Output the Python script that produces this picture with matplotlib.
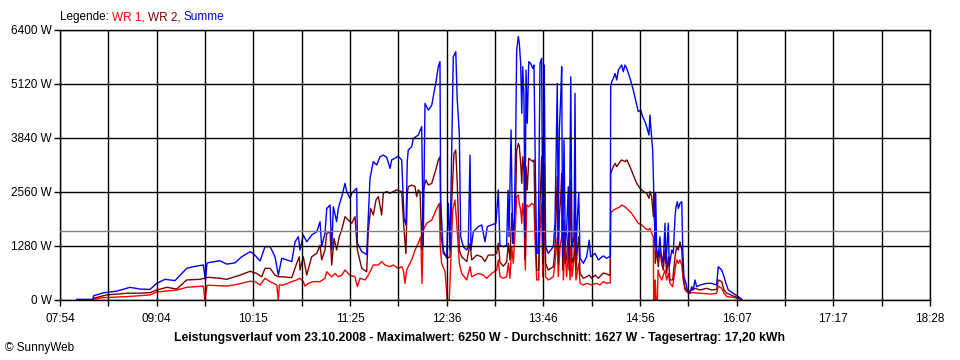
import matplotlib
matplotlib.use('Agg')
import matplotlib.pyplot as plt
from matplotlib.offsetbox import TextArea, HPacker, AnnotationBbox

plt.rcParams['font.family'] = ['Liberation Sans', 'DejaVu Sans']

# time in minutes of the day, power in W
summe_t = [486.2, 498.0, 498.5, 505.6, 515.3, 525.0, 532.3, 539.6, 544.5, 550.5,
           557.8, 566.3, 571.1, 578.4, 580.0, 581.1, 582.0, 590.6, 595.5, 601.5,
           606.4, 612.5, 615.0, 619.8, 623.4, 627.1, 630.7, 633.1, 635.6, 639.2,
           642.9, 645.3, 647.7, 648.9, 651.3, 653.8, 657.4, 661.1, 663.5, 664.7,
           667.1, 668.4, 670.8, 672.0, 673.2, 675.6, 676.8, 679.3, 681.7, 682.9,
           685.3, 686.6, 689.0, 690.2, 690.7, 693.9, 697.5, 698.7, 699.9, 702.3,
           704.8, 707.2, 709.6, 712.1, 714.5, 715.7, 718.1, 720.5, 723.0, 724.7,
           726.1, 727.1, 727.8, 730.3, 731.5, 735.1, 737.6, 738.7, 740.0, 742.4,
           744.9, 746.0, 748.0, 749.7, 750.9, 751.4, 753.3, 755.8, 757.0, 758.2,
           760.6, 762.4, 763.5, 765.0, 766.0, 767.9, 770.4, 771.5, 772.8, 773.5,
           775.2, 778.8, 781.3, 783.7, 785.4, 788.6, 791.7, 793.4, 794.6, 797.0,
           799.5, 800.5, 801.2, 802.7, 803.9, 805.1, 806.1, 806.8, 808.0, 808.7,
           809.7, 810.5, 811.2, 812.1, 812.9, 813.6, 814.5, 815.6, 817.0, 818.5,
           819.4, 820.4, 821.4, 822.5, 823.8, 825.0, 825.8, 826.9, 827.9, 829.8,
           833.5, 834.7, 836.4, 837.1, 837.9, 838.9, 839.6, 840.3, 841.3, 842.2,
           843.2, 844.4, 845.1, 846.2, 847.1, 848.6, 849.3, 850.0, 851.0, 852.0,
           853.0, 855.4, 857.8, 859.7, 860.7, 863.9, 866.3, 869.9, 872.4, 874.3,
           875.0, 875.3, 876.1, 877.2, 878.5, 879.7, 880.9, 883.3, 884.5, 885.7,
           887.0, 889.4, 891.8, 894.3, 895.4, 897.2, 898.6, 900.3, 901.5, 903.2,
           903.9, 904.7, 905.9, 906.9, 907.6, 908.1, 908.8, 910.0, 911.2, 912.0,
           913.6, 914.9, 915.6, 917.3, 918.0, 919.8, 920.9, 922.2, 922.9, 923.9,
           924.6, 925.8, 927.1, 927.8, 928.7, 930.2, 931.1, 933.1, 934.3, 935.5,
           936.7, 938.0, 940.4, 945.2, 948.9, 952.5, 953.7, 956.2, 957.9, 959.3,
           961.0, 964.6, 968.3, 970.7]
summe_w = [15, 15, 100, 170, 210, 300, 260, 250, 395, 490,
           460, 750, 790, 830, 480, 870, 885, 930, 850, 880,
           1025, 1145, 1100, 925, 1265, 1265, 1025, 590, 990, 950,
           910, 1380, 1500, 1185, 1540, 1380, 1540, 1620, 1855, 1265,
           1580, 2170, 2250, 1185, 2210, 1855, 2170, 2450, 2765, 2570,
           2410, 2530, 2610, 2650, 1345, 1145, 1080, 1975, 2885, 3280,
           3200, 3395, 3435, 3380, 3120, 3320, 3360, 3410, 3320, 1935,
           1780, 3300, 3555, 3635, 3830, 3910, 4110, 1300, 4660, 4500,
           4620, 4820, 5175, 5530, 5650, 2370, 1105, 1025, 2290, 1185,
           5765, 5885, 4740, 3950, 1500, 1265, 1185, 1265, 3435, 1185,
           1620, 1740, 1780, 1380, 1740, 1780, 1820, 2610, 1300, 1265,
           1300, 2600, 1500, 4030, 1345, 1975, 3870, 5925, 6250, 6085,
           5610, 4425, 5530, 4820, 1500, 5450, 4190, 5650, 5610, 5490,
           5570, 3080, 1105, 1105, 5610, 5730, 1345, 5570, 1265, 1105,
           1265, 1820, 5135, 1345, 4030, 4820, 5530, 1025, 3790, 1265,
           1660, 2685, 1025, 5290, 1265, 1500, 4900, 1105, 1895, 2530,
           990, 870, 1025, 1420, 1025, 1105, 950, 1045, 990, 1025,
           1025, 5055, 5175, 5255, 5370, 5215, 5450, 5570, 5410, 5570,
           5490, 5255, 4975, 4620, 4465, 4500, 4345, 4225, 4110, 3910,
           4385, 4030, 3555, 2290, 1265, 2530, 1185, 1025, 1500, 1105,
           870, 1820, 870, 1820, 790, 1185, 1105, 1975, 2210, 2330,
           2170, 2290, 2330, 1185, 550, 395, 237, 160, 315, 237,
           475, 315, 355, 395, 395, 355, 790, 710, 550, 395,
           237, 160, 80, 15]

wr2_t = [498.3, 508.0, 522.6, 532.3, 539.6, 544.5, 551.8, 559.1, 566.3, 576.0,
         582.0, 590.6, 595.5, 605.2, 612.5, 617.3, 621.0, 623.4, 627.1, 630.7,
         633.1, 636.7, 642.9, 646.5, 648.4, 648.9, 651.3, 653.8, 657.4, 661.1,
         663.5, 664.7, 667.1, 668.4, 670.8, 672.0, 673.7, 675.6, 677.5, 679.3,
         681.7, 684.1, 686.6, 689.0, 690.7, 693.9, 697.5, 698.7, 700.4, 702.3,
         704.3, 706.0, 708.4, 709.6, 712.1, 714.5, 719.4, 723.0, 724.7, 726.1,
         727.1, 727.8, 730.3, 732.7, 733.9, 735.1, 736.4, 737.8, 738.7, 740.7,
         742.4, 744.9, 746.0, 747.8, 749.7, 750.9, 751.6, 753.3, 755.8, 758.2,
         759.4, 761.1, 762.4, 763.5, 765.0, 766.7, 770.4, 772.8, 774.0, 777.7,
         781.3, 783.7, 786.1, 789.8, 792.2, 793.4, 794.6, 797.0, 799.5, 800.7,
         801.9, 803.2, 804.3, 806.1, 806.8, 808.0, 808.7, 809.7, 810.5, 811.2,
         812.1, 812.9, 813.6, 814.5, 815.6, 817.0, 818.5, 819.4, 820.4, 821.4,
         822.8, 823.8, 825.0, 825.8, 826.9, 827.9, 829.8, 833.5, 834.7, 836.4,
         837.1, 837.9, 838.9, 839.6, 840.3, 841.3, 842.2, 843.2, 844.4, 845.1,
         846.2, 847.1, 848.6, 849.3, 850.0, 851.0, 852.0, 853.0, 855.4, 857.8,
         859.7, 861.5, 863.9, 866.3, 869.9, 872.4, 874.3, 875.0, 875.3, 877.2,
         878.5, 879.7, 882.1, 883.3, 885.7, 887.0, 889.4, 891.8, 894.3, 896.7,
         899.1, 901.5, 903.2, 903.9, 905.2, 906.4, 907.1, 907.8, 908.8, 910.0,
         911.2, 912.5, 913.6, 914.9, 916.1, 917.3, 918.5, 920.5, 922.2, 923.4,
         924.6, 925.8, 927.1, 928.2, 929.5, 931.9, 934.3, 936.7, 940.4, 945.2,
         948.9, 952.5, 953.7, 956.2, 957.9, 959.9, 964.6, 969.8, 970.7]
wr2_w = [40, 120, 160, 160, 175, 237, 300, 260, 475, 490,
         538, 515, 490, 590, 680, 630, 550, 750, 750, 590,
         550, 550, 530, 870, 1025, 710, 1025, 590, 1025, 1105,
         1300, 950, 1185, 1580, 1620, 830, 1460, 1185, 1500, 1660,
         1975, 1895, 1820, 1975, 1185, 750, 670, 1660, 2170, 2015,
         2370, 2450, 2015, 2530, 2570, 2530, 2610, 2570, 1660, 1100,
         2530, 2685, 2725, 2685, 2450, 2610, 2570, 1185, 2610, 2845,
         2725, 2765, 2885, 3080, 3320, 3395, 1500, 1185, 990, 1025,
         2290, 3475, 3555, 2765, 1185, 1025, 910, 1345, 950, 1065,
         1025, 910, 1065, 1065, 1105, 1345, 900, 800, 900, 1345,
         950, 2055, 1345, 2450, 3555, 3710, 3650, 3240, 2765, 3395,
         3080, 950, 3160, 2610, 3360, 3320, 3280, 3320, 1660, 710,
         710, 2290, 3395, 870, 3240, 870, 710, 790, 1185, 2920,
         870, 1975, 2450, 3000, 710, 1895, 870, 1025, 1580, 710,
         2845, 870, 1025, 2685, 710, 1185, 1500, 630, 515, 550,
         590, 515, 590, 515, 640, 615, 590, 590, 3000, 3160,
         3240, 3160, 3280, 3320, 3280, 3320, 3160, 2960, 2765, 2650,
         2570, 2530, 2410, 2570, 2450, 1975, 2530, 870, 1185, 790,
         1185, 870, 710, 1185, 630, 1025, 475, 475, 1025, 1265,
         1185, 1380, 1185, 550, 277, 197, 237, 277, 237, 277,
         237, 253, 475, 435, 237, 160, 95, 40, 10]

wr1_t = [498.3, 505.6, 522.6, 539.6, 544.5, 559.1, 566.3, 578.4, 579.6, 581.1,
         582.0, 595.5, 600.4, 606.4, 612.5, 616.1, 619.8, 623.4, 627.1, 632.0,
         633.1, 633.8, 636.7, 642.9, 646.5, 648.9, 651.3, 652.5, 655.0, 658.6,
         663.5, 667.1, 668.4, 672.0, 674.4, 676.8, 679.3, 681.7, 685.3, 689.0,
         690.7, 692.6, 696.3, 698.7, 702.3, 706.0, 708.4, 710.8, 714.5, 716.9,
         720.5, 723.0, 724.2, 725.4, 726.6, 727.8, 730.3, 732.7, 735.1, 736.9,
         737.8, 738.7, 741.2, 744.9, 746.0, 748.5, 750.4, 751.1, 752.1, 754.6,
         756.2, 757.7, 758.7, 760.2, 761.8, 763.1, 765.0, 766.7, 770.4, 772.8,
         774.0, 778.8, 782.5, 784.9, 788.6, 792.2, 793.4, 794.6, 797.0, 799.5,
         800.7, 801.9, 803.2, 804.3, 805.6, 806.8, 808.0, 808.7, 809.7, 810.5,
         811.2, 812.1, 813.1, 814.1, 815.6, 817.7, 819.4, 820.4, 821.4, 822.8,
         823.8, 825.0, 825.8, 826.9, 827.9, 829.8, 833.5, 834.7, 836.4, 837.1,
         838.4, 839.6, 840.3, 840.8, 842.0, 843.2, 844.4, 845.7, 846.2, 847.1,
         849.3, 850.0, 852.0, 853.0, 855.4, 857.8, 861.5, 865.1, 867.5, 869.9,
         872.4, 875.0, 875.3, 877.2, 879.7, 882.1, 883.3, 885.7, 888.2, 890.6,
         893.0, 895.4, 897.9, 900.3, 902.7, 903.9, 905.2, 906.4, 906.6, 907.4,
         907.8, 908.3, 909.3, 909.8, 911.2, 912.5, 914.9, 916.1, 917.3, 918.5,
         920.5, 922.2, 923.4, 924.6, 925.8, 927.1, 928.2, 929.5, 931.9, 934.3,
         940.4, 948.9, 952.5, 953.7, 956.2, 957.9, 959.9, 964.6, 969.8, 970.7]
wr1_w = [20, 55, 80, 120, 190, 237, 300, 330, 0, 340,
         350, 330, 355, 395, 445, 435, 355, 515, 435, 355,
         0, 355, 355, 435, 475, 515, 435, 330, 395, 435,
         435, 515, 670, 550, 630, 550, 590, 710, 590, 550,
         315, 515, 475, 590, 830, 830, 910, 830, 790, 830,
         750, 790, 710, 395, 710, 790, 950, 1185, 1345, 1500,
         395, 1660, 1820, 1895, 1975, 2170, 2290, 1265, 870, 670,
         0, 0, 870, 2130, 2370, 1820, 870, 630, 475, 790,
         550, 630, 590, 515, 630, 710, 950, 560, 515, 550,
         870, 515, 1265, 870, 1580, 2450, 2490, 2290, 2130, 1820,
         2290, 1975, 710, 2250, 2210, 2290, 2250, 1265, 475, 475,
         1660, 2290, 550, 2210, 550, 475, 550, 870, 1500, 550,
         1265, 1500, 3000, 475, 1265, 550, 1185, 475, 1265, 550,
         1185, 475, 870, 395, 355, 395, 355, 395, 355, 435,
         395, 410, 2055, 2130, 2170, 2210, 2250, 2210, 2130, 2055,
         1935, 1820, 1780, 1700, 1660, 1700, 1580, 1500, 0, 0,
         475, 0, 0, 710, 550, 475, 710, 475, 630, 395,
         315, 710, 950, 870, 950, 830, 475, 237, 160, 175,
         160, 140, 160, 330, 277, 160, 80, 63, 24, 0]

average_w = 1627
y_ticks = [0, 1280, 2560, 3840, 5120, 6400]
x_labels = ['07:54', '09:04', '10:15', '11:25', '12:36', '13:46',
            '14:56', '16:07', '17:17', '18:28']
t_start, t_end = 474, 1108

fig = plt.figure(figsize=(9.6, 3.6), dpi=100)
ax = fig.add_axes([60 / 960, 60 / 360, 870 / 960, 270 / 360])

ax.plot(wr1_t, wr1_w, color='#ff0000', lw=1.0)
ax.plot(wr2_t, wr2_w, color='#800000', lw=1.0)
ax.plot(summe_t, summe_w, color='#0000ff', lw=1.0)
ax.axhline(average_w, color='#808080', lw=1.0, zorder=2.6)

ax.set_xlim(t_start, t_end)
ax.set_ylim(0, 6400)
step = (t_end - t_start) / 9
ax.set_xticks([t_start + i * step for i in range(10)])
ax.set_xticks([t_start + (i + 0.5) * step for i in range(9)], minor=True)
ax.set_xticklabels(x_labels)
ax.set_yticks(y_ticks)
ax.set_yticklabels([f'{v} W' for v in y_ticks])

ax.set_axisbelow(False)
ax.grid(which='both', axis='x', color='black', lw=1.0)
ax.grid(which='major', axis='y', color='black', lw=1.0)
for s in ax.spines.values():
    s.set_color('black')
    s.set_linewidth(1.0)
ax.tick_params(axis='x', which='both', direction='out', length=4, width=1.0,
               pad=5, labelsize=8.5)
ax.tick_params(axis='y', direction='out', length=4, width=1.0, pad=2,
               labelsize=8.5)

# legend on top, coloured pieces
parts = [('Legende: ', 'black'), ('WR 1, ', '#ff0000'), ('WR 2, ', '#800000'),
         ('Summe', '#0000ff')]
pack = HPacker(children=[TextArea(s, textprops=dict(color=c, size=8.5))
                         for s, c in parts], sep=0, pad=0, align='baseline')
fig.add_artist(AnnotationBbox(pack, (60 / 960, 1 - 17 / 360),
                              xycoords='figure fraction', box_alignment=(0, 0.5),
                              frameon=False, pad=0))

fig.text(0.4995, 1 - 338 / 360,
         'Leistungsverlauf vom 23.10.2008 - Maximalwert: 6250 W - '
         'Durchschnitt: 1627 W - Tagesertrag: 17,20 kWh',
         ha='center', va='center', fontsize=8.8, fontweight='bold')
fig.text(5 / 960, 1 - 348 / 360, '© SunnyWeb', ha='left', va='center',
         fontsize=8.5)

fig.savefig('out.png', dpi=100)
